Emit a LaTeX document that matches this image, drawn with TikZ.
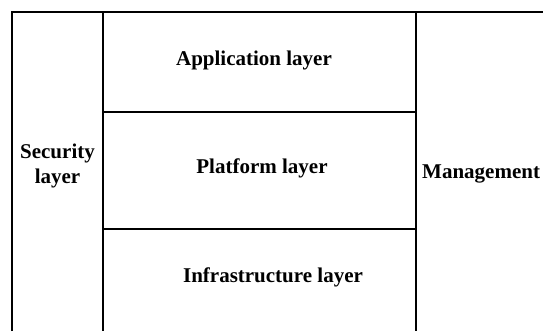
\documentclass[tikz,border=0pt]{standalone}
\usepackage{fontspec}
\setmainfont{Liberation Serif}
\usepackage{tikz}

\begin{document}
\begin{tikzpicture}[x=1bp, y=-1bp,
      lbl/.style={font=\bfseries\fontsize{21bp}{25bp}\selectfont,
                  align=center, inner sep=0pt},
      frame/.style={line width=2.8bp},
      colsep/.style={line width=2bp},
      rowsep/.style={line width=1.5bp},
    ]
    \useasboundingbox (0,0) rectangle (543,331);
    %% outer frame: open at the bottom and on the right
    \draw[frame] (12,331) |- (543,12);
    %% column separators
    \draw[colsep] (103,12) -- (103,331);
    \draw[colsep, line width=2.4bp] (416,12) -- (416,331);
    %% row separators of the middle column
    \draw[rowsep] (103,112) -- (416,112);
    \draw[rowsep] (103,229) -- (416,229);
    %% layer labels
    \node[lbl, anchor=base] (app)   at (254,65)  {Application layer};
    \node[lbl, anchor=base] (plat)  at (262,173) {Platform layer};
    \node[lbl, anchor=base] (infra) at (273,282) {Infrastructure layer};
    %% side columns
    \node[lbl] (sec) at (57.5,165.5) {Security\\layer};
    \node[lbl, anchor=base west] (mgmt) at (422,178) {Management};
\end{tikzpicture}
\end{document}
